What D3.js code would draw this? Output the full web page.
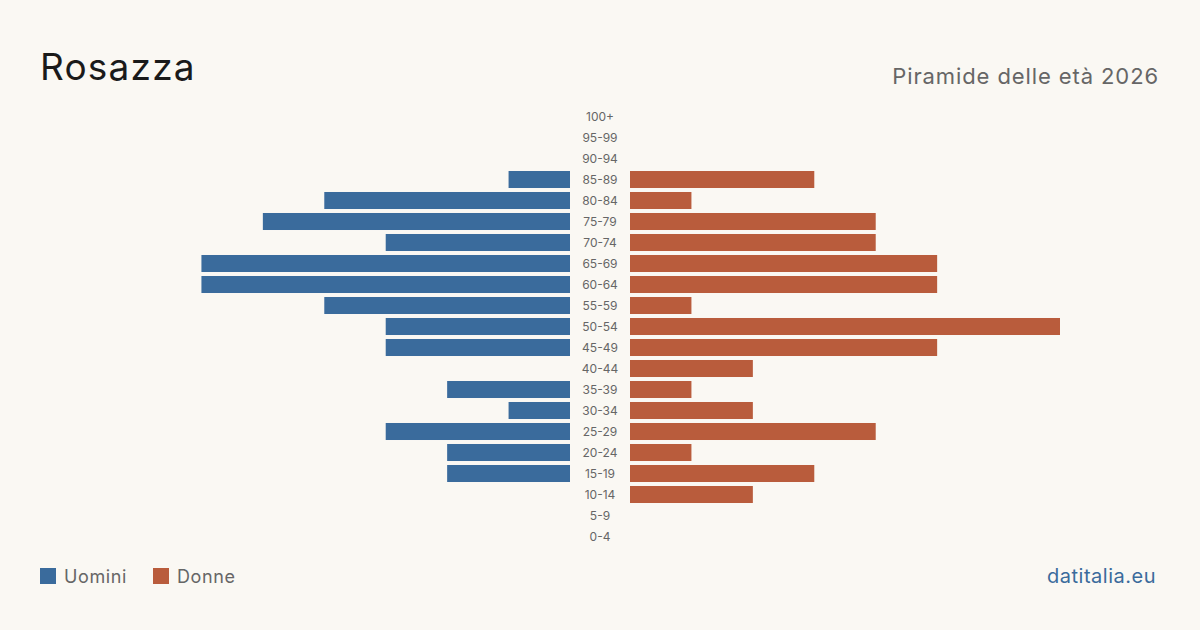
<!DOCTYPE html>
<html>
<head>
<meta charset="utf-8">
<script src="https://cdn.jsdelivr.net/npm/d3@7"></script>
<style>
  html, body { margin: 0; padding: 0; background: #faf8f3; }
  svg { display: block; font-family: Inter, "Noto Sans", sans-serif; }
</style>
</head>
<body>
<svg id="svg" width="1200" height="630"></svg>
<script>
const ages = ['100+', '95-99', '90-94', '85-89', '80-84', '75-79', '70-74', '65-69',
  '60-64', '55-59', '50-54', '45-49', '40-44', '35-39', '30-34', '25-29', '20-24',
  '15-19', '10-14', '5-9', '0-4'];
const men = [0, 0, 0, 1, 4, 5, 3, 6, 6, 4, 3, 3, 0, 2, 1, 3, 2, 2, 0, 0, 0];
const women = [0, 0, 0, 3, 1, 4, 4, 5, 5, 1, 7, 5, 2, 1, 2, 4, 1, 3, 2, 0, 0];

const blue = '#3a6b9c';
const red = '#b95c3c';

const svg = d3.select('#svg');
svg.append('rect').attr('width', 1200).attr('height', 630).attr('fill', '#faf8f3');

const maxVal = d3.max(men.concat(women));
const y = d3.scaleBand().domain(ages).range([106, 547])
  .paddingInner(0.19).paddingOuter(0.095);
const xLeft = d3.scaleLinear().domain([0, maxVal]).range([570, 140]);
const xRight = d3.scaleLinear().domain([0, maxVal]).range([630, 1060]);

svg.append('g').selectAll('rect')
  .data(ages.map((a, i) => ({ age: a, v: men[i] })).filter(d => d.v > 0))
  .join('rect')
  .attr('x', d => xLeft(d.v))
  .attr('y', d => y(d.age))
  .attr('width', d => xLeft(0) - xLeft(d.v))
  .attr('height', y.bandwidth())
  .attr('fill', blue);

svg.append('g').selectAll('rect')
  .data(ages.map((a, i) => ({ age: a, v: women[i] })).filter(d => d.v > 0))
  .join('rect')
  .attr('x', xRight(0))
  .attr('y', d => y(d.age))
  .attr('width', d => xRight(d.v) - xRight(0))
  .attr('height', y.bandwidth())
  .attr('fill', red);

svg.append('g').selectAll('text')
  .data(ages)
  .join('text')
  .attr('x', 600)
  .attr('y', d => y(d) + y.bandwidth() / 2)
  .attr('dy', '0.35em')
  .attr('text-anchor', 'middle')
  .attr('font-size', 12)
  .attr('fill', '#666')
  .text(d => d);

svg.append('text').attr('x', 40).attr('y', 80)
  .attr('font-size', 37).attr('letter-spacing', 1.2).attr('fill', '#1a1a1a').text('Rosazza');

svg.append('text').attr('x', 1159).attr('y', 84)
  .attr('text-anchor', 'end').attr('font-size', 22).attr('letter-spacing', 0.9)
  .attr('fill', '#666')
  .text('Piramide delle età 2026');

const legend = [['Uomini', blue, 40], ['Donne', red, 153]];
legend.forEach(([label, color, lx]) => {
  svg.append('rect').attr('x', lx).attr('y', 568).attr('width', 16).attr('height', 16)
    .attr('fill', color);
  svg.append('text').attr('x', lx + 24).attr('y', 583)
    .attr('font-size', 18).attr('letter-spacing', 0.6).attr('fill', '#666').text(label);
});

svg.append('text').attr('x', 1156).attr('y', 583)
  .attr('text-anchor', 'end').attr('font-size', 20).attr('letter-spacing', 0.5)
  .attr('fill', blue)
  .text('datitalia.eu');
</script>
</body>
</html>
